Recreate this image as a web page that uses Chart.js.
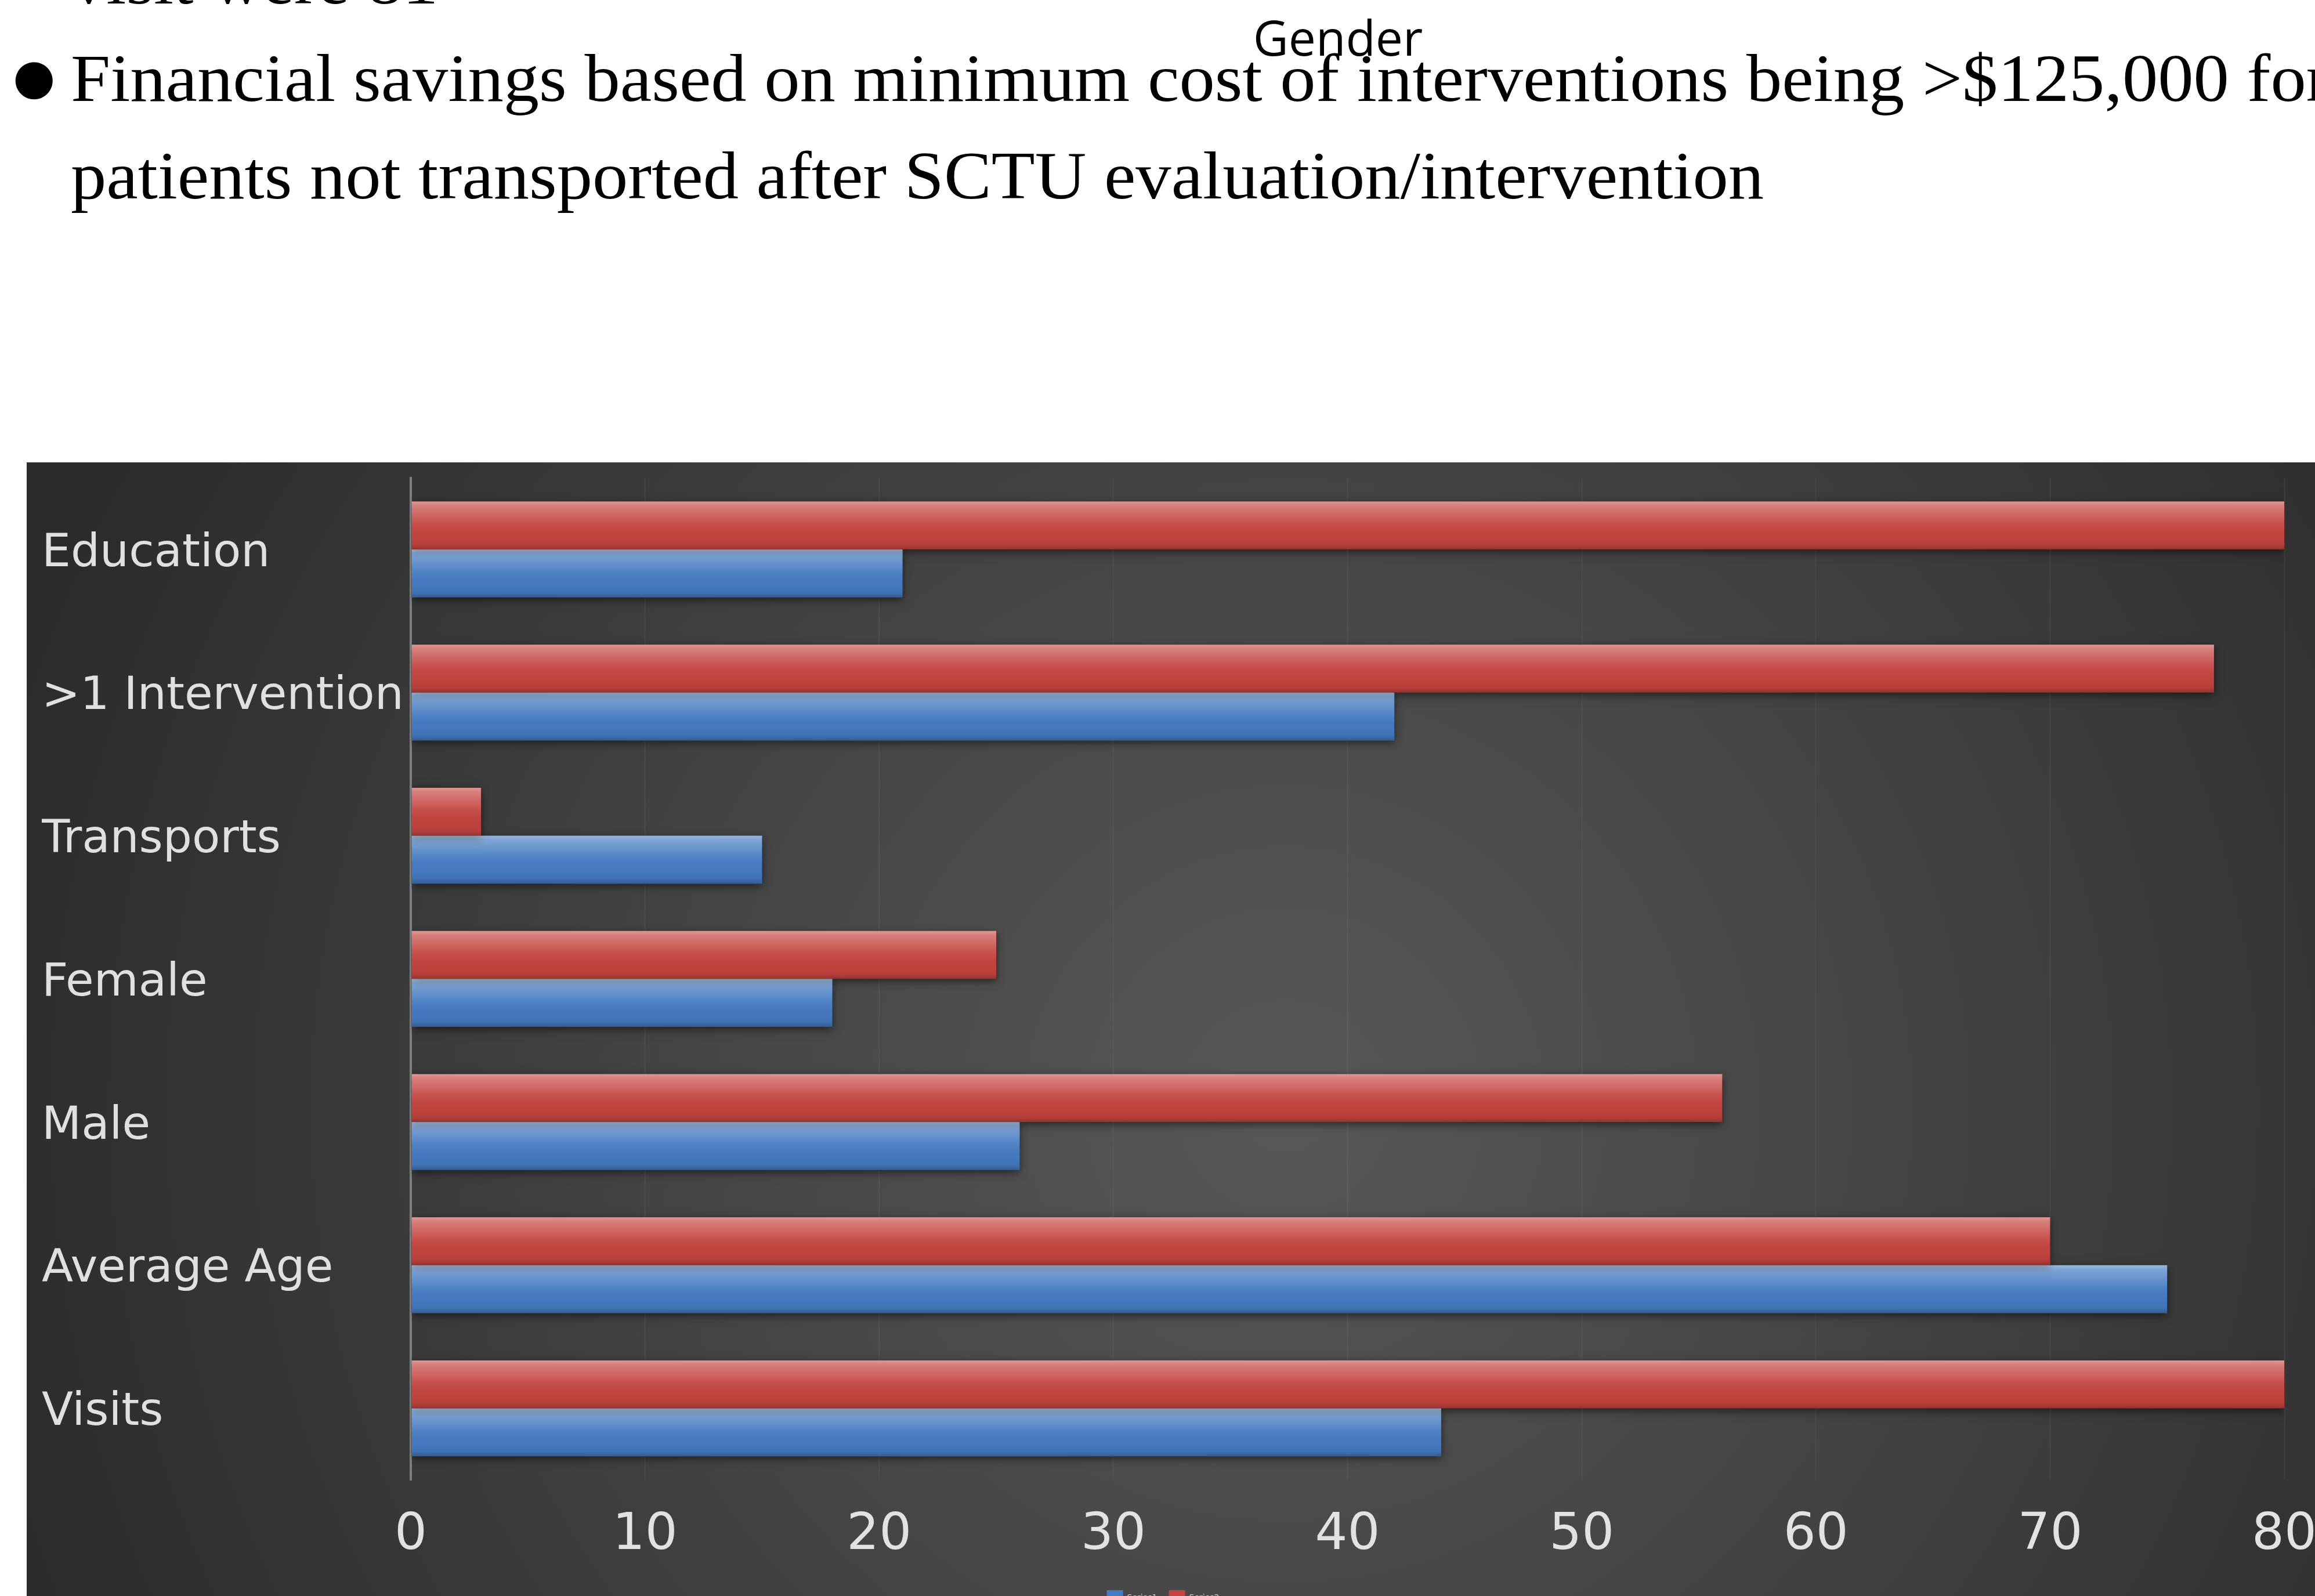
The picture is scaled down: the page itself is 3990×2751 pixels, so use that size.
<!DOCTYPE html>
<html>
<head>
<meta charset="utf-8">
<title>Gender</title>
<script src="https://cdn.jsdelivr.net/npm/chart.js@4/dist/chart.umd.min.js"></script>
<style>
  html, body { margin: 0; padding: 0; background: #fff; }
  body { width: 3990px; height: 2751px; overflow: hidden; position: relative; }
  .slide-text {
    position: absolute; left: 122px; top: -117.5px;
    font-family: "Liberation Serif", "Times New Roman", serif;
    font-size: 117px; line-height: 168px; color: #000; white-space: nowrap;
    transform: scaleX(1.048); transform-origin: 0 0;
  }
  .bullet {
    position: absolute; left: 22px; top: 72px;
    font-family: "DejaVu Sans", sans-serif; font-size: 84px; line-height: 120px; color: #000;
  }
  .gender {
    position: absolute; left: 2306px; top: 7px; transform: translateX(-50%);
    font-family: "Open Sans", sans-serif; font-size: 84px; line-height: 114px; color: #000;
    white-space: nowrap;
  }
  #wrap { position: absolute; left: 46px; top: 797px; width: 4060px; height: 2000px; }
</style>
</head>
<body>
<div class="slide-text">visit were 81<br>Financial savings based on minimum cost of interventions being &gt;$125,000 for<br>patients not transported after SCTU evaluation/intervention</div>
<div class="bullet">●</div>
<div class="gender">Gender</div>
<div id="wrap"><canvas id="gender" width="4060" height="2000"></canvas></div>
<script>
// categories du graphe (de haut en bas)
const categories = ['Education', '>1 Intervention', 'Transports', 'Female', 'Male', 'Average Age', 'Visits'];
// valeurs
const series1 = [21, 42, 15, 18, 26, 75, 44]; // bleu
const series2 = [80, 77, 3, 25, 56, 70, 80];  // rouge
const xMax = 80;
const xStep = 10;

// fond sombre avec un dégradé radial
const panelBg = {
    id: 'panelBg',
    beforeDraw(chart) {
        const ctx = chart.ctx;
        const g = ctx.createRadialGradient(2168, 1111, 0, 2168, 1111, 2350);
        g.addColorStop(0, '#585858');
        g.addColorStop(0.45, '#444444');
        g.addColorStop(1, '#2a2a2a');
        ctx.save();
        ctx.fillStyle = g;
        ctx.fillRect(0, 0, chart.width, chart.height);
        ctx.restore();
    }
};

// ombre + reflet sur les barres (positions lues depuis les elements du graphe)
const barGloss = {
    id: 'barGloss',
    beforeDatasetsDraw(chart) {
        const ctx = chart.ctx;
        ctx.save();
        ctx.shadowColor = 'rgba(0,0,0,0.55)';
        ctx.shadowBlur = 14;
        ctx.shadowOffsetY = 4;
    },
    afterDatasetsDraw(chart) {
        const ctx = chart.ctx;
        ctx.restore();
        chart.data.datasets.forEach((ds, i) => {
            const meta = chart.getDatasetMeta(i);
            meta.data.forEach(el => {
                const p = el.getProps(['x', 'y', 'base', 'height'], true);
                const left = Math.min(p.x, p.base);
                const w = Math.abs(p.x - p.base);
                const top = p.y - p.height / 2;
                const h = p.height;
                const g = ctx.createLinearGradient(0, top, 0, top + h);
                g.addColorStop(0, 'rgba(255,255,255,0.45)');
                g.addColorStop(0.08, 'rgba(255,255,255,0.32)');
                g.addColorStop(0.45, 'rgba(255,255,255,0.07)');
                g.addColorStop(0.75, 'rgba(0,0,0,0.02)');
                g.addColorStop(0.9, 'rgba(0,0,0,0.08)');
                g.addColorStop(1, 'rgba(0,0,0,0.25)');
                ctx.save();
                ctx.fillStyle = g;
                ctx.fillRect(left, top, w, h);
                ctx.restore();
            });
        });
    }
};

const ctx = document.getElementById('gender').getContext('2d');
const myChart = new Chart(ctx, {
    type: 'bar',
    data: {
        labels: categories,
        datasets: [
            {
                label: 'Series2',
                data: series2,
                backgroundColor: '#c4443f',
                borderWidth: 0,
                barPercentage: 1,
                categoryPercentage: 0.67
            },
            {
                label: 'Series1',
                data: series1,
                backgroundColor: '#457bc2',
                borderWidth: 0,
                barPercentage: 1,
                categoryPercentage: 0.67
            }
        ]
    },
    options: {
        indexAxis: 'y',
        responsive: false,
        devicePixelRatio: 1,
        animation: false,
        layout: { padding: { left: 26, right: 169, top: 26, bottom: 20 } },
        plugins: {
            legend: {
                position: 'bottom',
                reverse: true,
                labels: {
                    color: '#cfcfcf',
                    boxWidth: 28,
                    boxHeight: 26,
                    padding: 20,
                    font: { family: 'DejaVu Sans', size: 14 }
                }
            },
            tooltip: { enabled: false },
            title: { display: false }
        },
        scales: {
            x: {
                min: 0,
                max: xMax,
                ticks: {
                    stepSize: xStep,
                    color: '#e2e2e2',
                    padding: 43,
                    font: { family: 'DejaVu Sans', size: 88 }
                },
                grid: { color: 'rgba(255,255,255,0.035)', lineWidth: 3, drawTicks: false },
                border: { display: false },
                afterFit(scale) { scale.height = 170; }
            },
            y: {
                ticks: {
                    color: '#e0e0e0',
                    crossAlign: 'far',
                    labelOffset: 8,
                    font: { family: 'DejaVu Sans', size: 79, lineHeight: 0.6 }
                },
                grid: { display: false, drawTicks: false },
                border: { display: true, color: 'rgba(150,150,150,0.75)', width: 4 },
                afterFit(scale) { scale.width = 636; }
            }
        }
    },
    plugins: [panelBg, barGloss]
});
</script>
</body>
</html>
